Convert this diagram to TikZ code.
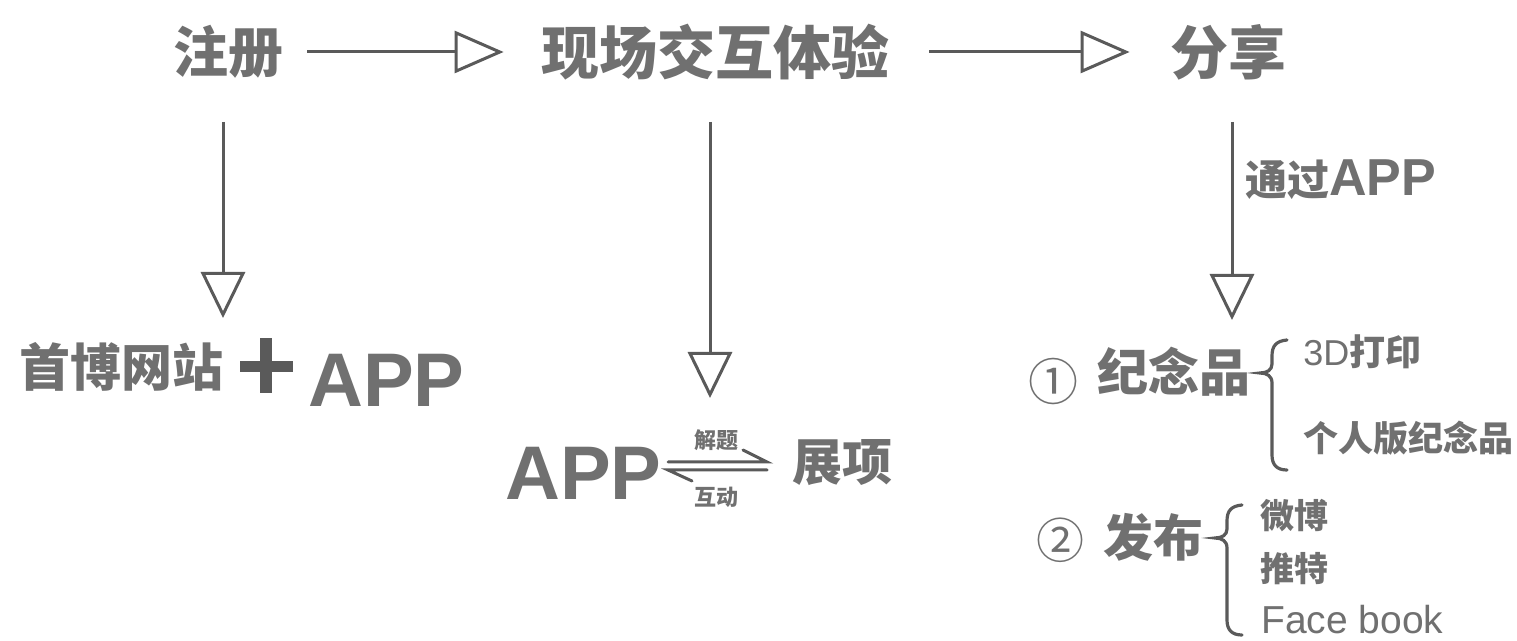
\documentclass[tikz,border=0pt]{standalone}
\usepackage{fontspec}
\newfontfamily\cjk{Noto Sans CJK SC}
\newfontfamily\lsans{Liberation Sans}
\usetikzlibrary{arrows.meta,calc}
\definecolor{tgray}{HTML}{707070}
\definecolor{lgray}{HTML}{5A5A5A}
\tikzset{
  txt/.style={text=tgray, inner sep=0pt},
  cjkb/.style={font={\cjk\bfseries\fontsize{#1}{#1}\selectfont}},
  cjkr/.style={font={\cjk\fontsize{#1}{#1}\selectfont}},
  latb/.style={font={\lsans\bfseries\fontsize{#1}{#1}\selectfont}},
  latr/.style={font={\lsans\fontsize{#1}{#1}\selectfont}},
  harr/.style={draw=lgray, line width=1.5pt, -{Triangle[open, length=24.5pt, width=21pt, line width=1.5pt]}},
  varr/.style={draw=lgray, line width=1.5pt, -{Triangle[open, length=23pt, width=22pt, line width=1.5pt]}},
  thin/.style={draw=lgray, line width=1.5pt, line cap=round},
  bracestyle/.style={draw=lgray, line width=1.6pt, line cap=round},
}
\begin{document}
\begin{tikzpicture}[x=0.5pt, y=-0.5pt]
\useasboundingbox[fill=white] (0,0) rectangle (1517,641);

% top row
\node[txt, cjkb=27.5pt] (reg) at (228,52) {注册};
\node[txt, cjkb=29pt] (exp) at (715,52) {现场交互体验};
\node[txt, cjkb=29pt] (share) at (1228,52) {分享};
\draw[harr, shorten <=12pt, shorten >=18.5pt] (reg.east) -- (exp.west);
\draw[harr, shorten <=20pt, shorten >=20pt] (exp.east) -- (share.west);

% left column
\node[txt, cjkb=25.5pt, anchor=west] (web) at (19,367) {首博网站};
\fill[lgray] (240,361) rectangle (293,372);
\fill[lgray] (260,338) rectangle (272,393);
\node[txt, latb=38pt, anchor=base west] (appL) at (308,407) {APP};
\coordinate (l1) at (223,122);
\coordinate (l2) at (223,318);
\draw[varr] (l1) -- (l2);

% middle column
\coordinate (m1) at (710,122);
\coordinate (m2) at (710,398);
\draw[varr] (m1) -- (m2);
\node[txt, latb=38pt, anchor=base west] (appM) at (505,500) {APP};
\node[txt, cjkb=25pt] (zx) at (842,463) {展项};
\coordinate (h1) at (668,462);
\coordinate (h2) at (767,462);
\coordinate (h3) at (668,470);
\coordinate (h4) at (767,470);
\draw[thin] (h1) -- (h2) -- ++(-24,-12);
\draw[thin] (h4) -- (h3) -- ++(24,11);
\node[txt, cjkb=11pt] (jt) at (716,440) {解题};
\node[txt, cjkb=11pt] (hd) at (716,497) {互动};

% right column
\coordinate (r1) at (1232,122);
\coordinate (r2) at (1232,320);
\draw[varr] (r1) -- (r2);
\node[txt, anchor=west] (via) at (1245,180) {{\cjk\bfseries\fontsize{21pt}{21pt}\selectfont 通过}{\lsans\bfseries\fontsize{26pt}{26pt}\selectfont APP}};

\node[txt, cjkr=25pt] (c1) at (1053,382) {①};
\node[txt, cjkb=25.5pt, anchor=west] (jnp) at (1097,372) {纪念品};
\draw[bracestyle] (1287,340) .. controls (1276,341) and (1272,346) .. (1272,356)
  -- (1272,364) .. controls (1272,370) and (1267,373) .. (1260,373)
  .. controls (1267,373) and (1272,376) .. (1272,383)
  -- (1272,455) .. controls (1272,465) and (1277,470) .. (1287,470);
\node[txt, anchor=west] (p3d) at (1303,352) {{\lsans\fontsize{18pt}{18pt}\selectfont 3D}{\cjk\bfseries\fontsize{18pt}{18pt}\selectfont 打印}};
\node[txt, cjkb=17.5pt, anchor=west] (pers) at (1303,438) {个人版纪念品};

\node[txt, cjkr=24pt] (c2) at (1060,540) {②};
\node[txt, cjkb=25pt, anchor=west] (fb) at (1103,537) {发布};
\draw[bracestyle] (1242,505) .. controls (1231,506) and (1227,511) .. (1227,521)
  -- (1227,529) .. controls (1227,535) and (1222,538) .. (1215,538)
  .. controls (1222,538) and (1227,541) .. (1227,548)
  -- (1227,620) .. controls (1227,630) and (1232,635) .. (1242,635);
\node[txt, cjkb=17pt, anchor=west] (wb) at (1260,516) {微博};
\node[txt, cjkb=17pt, anchor=west] (tt) at (1260,569) {推特};
\node[txt, latr=19.5pt, anchor=base west] (fbk) at (1261,634) {Face book};
\end{tikzpicture}
\end{document}
